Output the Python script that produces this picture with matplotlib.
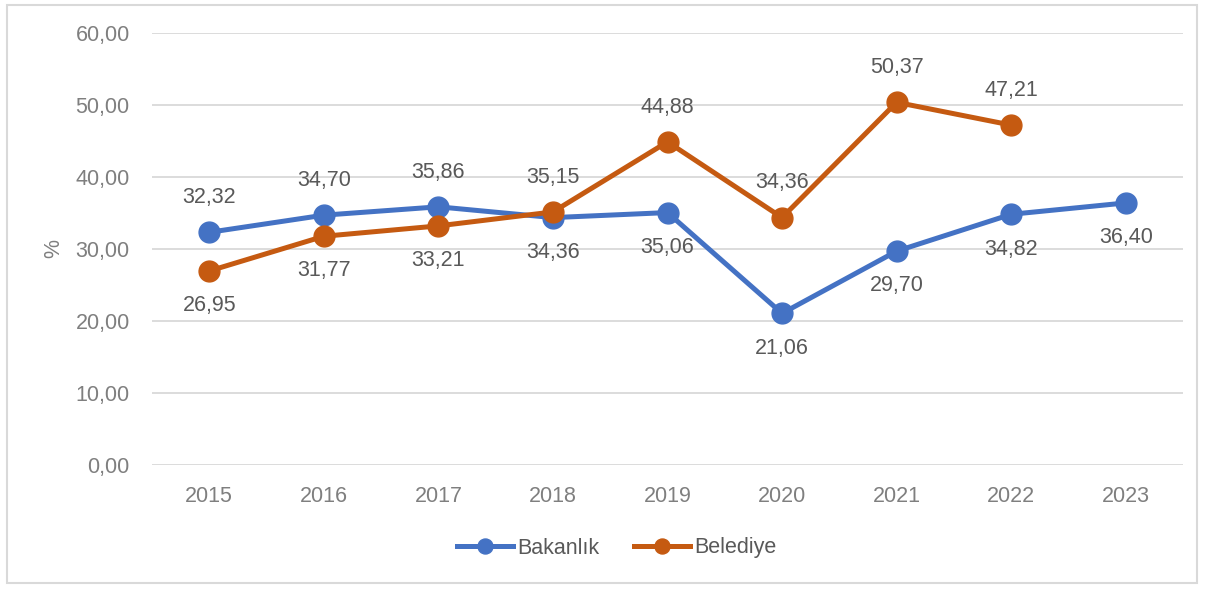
import numpy as np
import matplotlib.pyplot as plt
from matplotlib.patches import Rectangle

plt.rcParams['font.family'] = ['Liberation Sans', 'DejaVu Sans']

years = ['2015', '2016', '2017', '2018', '2019', '2020', '2021', '2022', '2023']
bakanlik = [32.32, 34.70, 35.86, 34.36, 35.06, 21.06, 29.70, 34.82, 36.40]
belediye = [26.95, 31.77, 33.21, 35.15, 44.88, 34.36, 50.37, 47.21]

# label placement: +1 above the point, -1 below
bakanlik_pos = [1, 1, 1, -1, -1, -1, -1, -1, -1]
belediye_pos = [-1, -1, -1, 1, 1, 1, 1, 1]

blue = '#4472C4'
orange = '#C55A11'
grid_c = '#D9D9D9'
text_c = '#595959'
tick_c = '#7F7F7F'
fs = 15.5

fig = plt.figure(figsize=(12.05, 5.89), dpi=100)
ax = fig.add_axes([152 / 1205, 1 - 465 / 589, 1031 / 1205, 432 / 589])

x = np.arange(len(years))
ax.plot(x, bakanlik, color=blue, lw=3.6, marker='o', ms=15, label='Bakanlık', zorder=3)
ax.plot(x[:len(belediye)], belediye, color=orange, lw=3.6, marker='o', ms=15,
        label='Belediye', zorder=3)

def fmt(v):
    return f'{v:.2f}'.replace('.', ',')

for xi, v, p in zip(x, bakanlik, bakanlik_pos):
    ax.annotate(fmt(v), (xi, v), xytext=(0, 25 * p), textcoords='offset points',
                ha='center', va='center', fontsize=fs, color=text_c)
for xi, v, p in zip(x, belediye, belediye_pos):
    ax.annotate(fmt(v), (xi, v), xytext=(0, 25 * p), textcoords='offset points',
                ha='center', va='center', fontsize=fs, color=text_c)

ax.set_xlim(-0.5, len(years) - 0.5)
ax.set_ylim(0, 60)
ax.set_yticks(np.arange(0, 61, 10))
ax.set_yticklabels([fmt(t) for t in np.arange(0, 61, 10)])
ax.set_xticks(x)
ax.set_xticklabels(years)
ax.grid(axis='y', color=grid_c, lw=1.3)
ax.set_axisbelow(True)
for s in ax.spines.values():
    s.set_visible(False)
ax.tick_params(length=0, labelsize=fs, colors=tick_c, pad=15)
ax.tick_params(axis='y', pad=16)
ax.set_ylabel('%', fontsize=fs, color=tick_c, labelpad=8)

fig.legend(loc='center', bbox_to_anchor=(617 / 1205, 1 - 548 / 589), ncol=2,
           frameon=False, fontsize=fs, handlelength=2.6, columnspacing=1.6,
           handletextpad=0.2, markerscale=0.72, labelcolor=text_c)

fig.patches.append(Rectangle((7 / 1205, 6 / 589), 1190 / 1205, 578 / 589,
                             transform=fig.transFigure, fill=False,
                             edgecolor='#D9D9D9', lw=1.5))

fig.savefig('out.png', dpi=100)
